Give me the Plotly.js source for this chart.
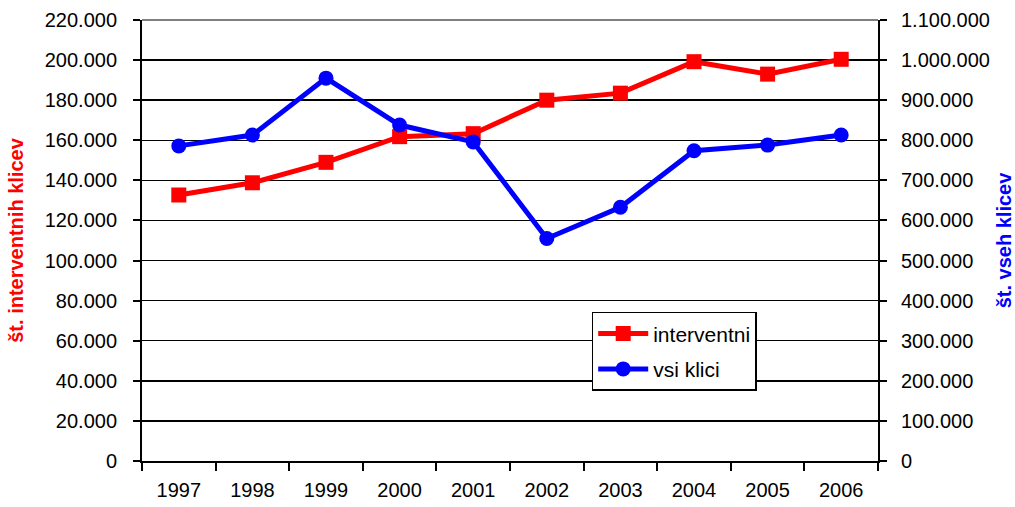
<!DOCTYPE html>
<html><head><meta charset="utf-8">
<script src="https://cdn.plot.ly/plotly-3.0.1.min.js"></script>
<style>body{margin:0;background:#fff}#c{width:1015px;height:507px}</style>
</head><body><div id="c"></div>
<script>
const years = ['1997','1998','1999','2000','2001','2002','2003','2004','2005','2006'];
const interventni = [132700, 138800, 149000, 161800, 163300, 180000, 183500, 199200, 193000, 200400];
const vsiKlici = [786000, 813000, 955000, 838000, 796000, 555000, 633000, 774000, 788000, 813000];
const leftTicks = [0,20000,40000,60000,80000,100000,120000,140000,160000,180000,200000,220000];
const leftLabels = ['0','20.000','40.000','60.000','80.000','100.000','120.000','140.000','160.000','180.000','200.000','220.000'];
const rightTicks = [0,100000,200000,300000,400000,500000,600000,700000,800000,900000,1000000,1100000];
const rightLabels = ['0','100.000','200.000','300.000','400.000','500.000','600.000','700.000','800.000','900.000','1.000.000','1.100.000'];

const FAM = 'Liberation Sans, Arial, sans-serif';
const font = {family:FAM, size:20, color:'#000'};
const traces = [
 {x:years, y:interventni, name:'interventni', type:'scatter', mode:'lines+markers', legendgroup:'a',
  line:{color:'#ff0000', width:5}, marker:{symbol:'square', size:15, color:'#ff0000'}},
 {x:years, y:vsiKlici, name:'vsi klici', type:'scatter', mode:'lines+markers', yaxis:'y2', legendgroup:'b',
  line:{color:'#0000ff', width:5}, marker:{symbol:'circle', size:15, color:'#0000ff'}}
];
const layout = {
 width:1015, height:507, margin:{l:142, r:137, t:20, b:46},
 paper_bgcolor:'#fff', plot_bgcolor:'#fff', font:font, showlegend:true,
 xaxis:{type:'category', tickson:'boundaries', ticks:'outside', ticklen:8, tickcolor:'#000', tickwidth:2,
   showline:true, linecolor:'#000', linewidth:2, showgrid:false, zeroline:false, tickfont:font,
   range:[-0.5,9.5], ticklabelstandoff:10},
 yaxis:{range:[0,220000], tickvals:leftTicks, ticktext:leftLabels, ticks:'outside', ticklen:7,
   tickcolor:'#000', tickwidth:2, showline:true, linecolor:'#000', linewidth:2, showgrid:true,
   gridcolor:'#000', gridwidth:1.5, zeroline:false, tickfont:font, ticklabelstandoff:12,
   title:{text:'<b>št. interventnih klicev</b>', font:{family:FAM, size:20, color:'#ff0000'}, standoff:16}},
 yaxis2:{range:[0,1100000], overlaying:'y', side:'right', tickvals:rightTicks, ticktext:rightLabels,
   ticks:'outside', ticklen:7, tickcolor:'#000', tickwidth:2, showline:true, linecolor:'#000', linewidth:2,
   showgrid:false, zeroline:false, tickfont:font, ticklabelstandoff:10,
   title:{text:'<b>št. vseh klicev</b>', font:{family:FAM, size:20, color:'#0000ff'}, standoff:14}},
 legend:{x:0.611, y:0.338, xanchor:'left', yanchor:'top', bgcolor:'#fff', bordercolor:'#000', borderwidth:1.5,
   font:{family:FAM, size:21, color:'#000'}, itemwidth:50, traceorder:'grouped', tracegroupgap:5},
 shapes:[{type:'line', xref:'paper', yref:'paper', x0:0, x1:1, y0:1, y1:1, line:{color:'#808080', width:2}}]
};
Plotly.newPlot('c', traces, layout, {staticPlot:true, displayModeBar:false});
</script></body></html>
